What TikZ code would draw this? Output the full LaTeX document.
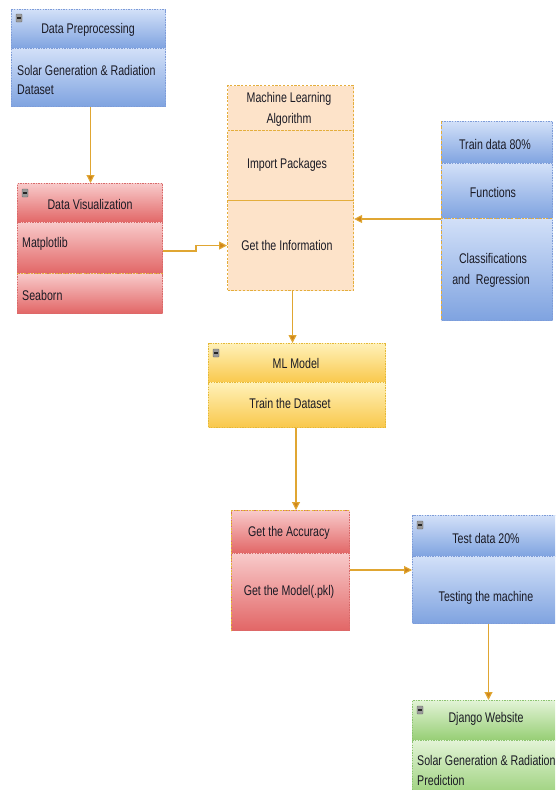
\documentclass[tikz,border=0pt]{standalone}
\usepackage{fontspec}
\setmainfont{Liberation Sans}[FakeStretch=0.76]
\usetikzlibrary{arrows.meta}
\definecolor{bluetop}{HTML}{D2E0F8}
\definecolor{bluebot}{HTML}{7FA3E0}
\definecolor{blueline}{HTML}{7E9CD8}
\definecolor{redtop}{HTML}{F8CACA}
\definecolor{redbot}{HTML}{E26666}
\definecolor{redline}{HTML}{D86A6A}
\definecolor{peach}{HTML}{FDE3C9}
\definecolor{peachline}{HTML}{E4AE3C}
\definecolor{yeltop}{HTML}{FFF1B8}
\definecolor{yelbot}{HTML}{F9C84C}
\definecolor{yelline}{HTML}{E4B838}
\definecolor{grntop}{HTML}{E2F3D6}
\definecolor{grnbot}{HTML}{96CE74}
\definecolor{grnline}{HTML}{8CC470}
\definecolor{arrowc}{HTML}{E0A632}
\definecolor{tipc}{HTML}{D0861A}
\definecolor{txt}{HTML}{1A1A24}
\tikzset{
  sec/.style={rectangle, inner sep=0pt, anchor=north west, line width=1pt, dash pattern=on 1.3pt off 1.3pt},
  bluesec/.style={sec, top color=bluetop, bottom color=bluebot, draw=blueline},
  redsec/.style={sec, top color=redtop, bottom color=redbot, draw=redline},
  peachsec/.style={sec, fill=peach, draw=peachline, dash pattern=on 2.2pt off 1.6pt, line width=1.1pt},
  yelsec/.style={sec, top color=yeltop, bottom color=yelbot, draw=yelline},
  grnsec/.style={sec, top color=grntop, bottom color=grnbot, draw=grnline},
  lbl/.style={inner sep=0pt, text=txt, font=\fontsize{14}{16}\selectfont},
  lbll/.style={lbl, anchor=west},
  flow/.style={draw=arrowc, line width=1.1pt, -{Triangle[length=8pt,width=8pt,fill=tipc]}},
  mini/.pic={\draw[fill=black!40, draw=black!60, line width=0.4pt, rounded corners=0.6pt] (0,0) rectangle (6,8);
             \fill[black!85] (1,3.2) rectangle (5,5);}
}
\begin{document}
\begin{tikzpicture}[x=1pt,y=-1pt]
\useasboundingbox (0,0) rectangle (555,790);
\clip (0,0) rectangle (555,790);
% Data Preprocessing
\node[bluesec, minimum width=154pt, minimum height=39pt] (pre1) at (11,9) {};
\node[bluesec, minimum width=154pt, minimum height=58pt] (pre2) at (11,48) {};
\pic at (16,14) {mini};
\node[lbl] (tpre1) at (88,30) {Data Preprocessing};
\node[lbll] (tpre2) at (17,70) {Solar Generation \& Radiation};
\node[lbll] (tpre3) at (17,90) {Dataset};
% Data Visualization
\node[redsec, minimum width=145pt, minimum height=39pt] (vis1) at (17,183) {};
\node[redsec, minimum width=145pt, minimum height=51pt] (vis2) at (17,222) {};
\node[redsec, minimum width=145pt, minimum height=40pt] (vis3) at (17,273) {};
\draw[peachline, line width=1pt, dash pattern=on 2pt off 1.5pt] (vis3.north west) -- (vis3.north east);
\pic at (22,189) {mini};
\node[lbl] (tvis1) at (90,204) {Data Visualization};
\node[lbll] (tvis2) at (22,244) {Matplotlib};
\node[lbll] (tvis3) at (22,295) {Seaborn};
% Machine Learning Algorithm
\node[peachsec, minimum width=126pt, minimum height=45pt] (alg1) at (227,85) {};
\node[peachsec, minimum width=126pt, minimum height=70pt] (alg2) at (227,130) {};
\node[peachsec, minimum width=126pt, minimum height=90pt] (alg3) at (227,200) {};
\begin{scope}
\clip (227,85) rectangle (353,127);
\node[lbl] (talg1) at (289,99) {Machine Learning};
\node[lbl] (talg2) at (289,120) {Algorithm};
\end{scope}
\node[lbl] (talg3) at (287,165) {Import Packages};
\node[lbl] (talg4) at (287,245) {Get the Information};
% Train data
\node[bluesec, minimum width=111pt, minimum height=42pt] (tr1) at (441,121) {};
\node[bluesec, minimum width=111pt, minimum height=55pt] (tr2) at (441,163) {};
\node[bluesec, minimum width=111pt, minimum height=102pt] (tr3) at (441,218) {};
\draw[peachline, line width=1pt, dash pattern=on 2pt off 1.5pt] (tr3.north west) -- (tr3.north east);
\draw[peachline, line width=0.8pt, dash pattern=on 3pt off 2pt] (tr1.north west) -- (tr3.south west);
\node[lbl] (ttr1) at (495,144) {Train data 80\%};
\node[lbl] (ttr2) at (493,192) {Functions};
\node[lbl] (ttr3) at (493,258) {Classifications};
\node[lbl] (ttr4) at (491,281) {and\ \ Regression};
% ML Model
\node[yelsec, minimum width=177pt, minimum height=39pt] (ml1) at (208,343) {};
\node[yelsec, minimum width=177pt, minimum height=45pt] (ml2) at (208,382) {};
\pic at (213,349) {mini};
\node[lbl] (tml1) at (296,363) {ML Model};
\node[lbl] (tml2) at (290,403) {Train the Dataset};
% Accuracy
\node[redsec, minimum width=118pt, minimum height=43pt] (acc1) at (231,510) {};
\node[redsec, minimum width=118pt, minimum height=77pt] (acc2) at (231,553) {};
\draw[yelline, line width=1pt, dash pattern=on 2pt off 1.5pt] (acc1.north west) -- (acc1.north east);
\draw[yelline, line width=0.8pt, dash pattern=on 2pt off 1.5pt] (acc1.north west) -- (acc2.south west);
\node[lbl] (tacc1) at (289,533) {Get the Accuracy};
\node[lbl] (tacc2) at (289,592) {Get the Model(.pkl)};
% Test data
\node[bluesec, minimum width=150pt, minimum height=41pt] (test1) at (412,515) {};
\node[bluesec, minimum width=150pt, minimum height=67pt] (test2) at (412,556) {};
\pic at (417,521) {mini};
\node[lbl] (ttest1) at (486,538) {Test data 20\%};
\node[lbl] (ttest2) at (486,598) {Testing the machine};
% Django
\node[grnsec, minimum width=150pt, minimum height=40pt] (dj1) at (412,700) {};
\node[grnsec, minimum width=150pt, minimum height=60pt] (dj2) at (412,740) {};
\pic at (417,706) {mini};
\node[lbl] (tdj1) at (486,719) {Django Website};
\node[lbll] (tdj2) at (417,760) {Solar Generation \& Radiation};
\node[lbll] (tdj3) at (417,780) {Prediction};
% connectors
\draw[flow] (pre2.south) ++(2,0) coordinate (c1) -- (c1 |- vis1.north);
\draw[flow] (vis2.east) ++(0,3) coordinate (c2) -- ++(33,0) |- (alg3.west);
\draw[flow] (tr2.south west) -- (tr2.south west -| alg3.east);
\draw[flow] (alg3.south) ++(2,0) coordinate (c3) -- (c3 |- ml1.north);
\draw[flow] (ml2.south) ++(-1,0) coordinate (c4) -- (c4 |- acc1.north);
\draw[flow] (acc2.north east) ++(0,17) coordinate (c5) -- (c5 -| test2.west);
\draw[flow] (test2.south) ++(1,0) coordinate (c6) -- (c6 |- dj1.north);
\end{tikzpicture}
\end{document}
